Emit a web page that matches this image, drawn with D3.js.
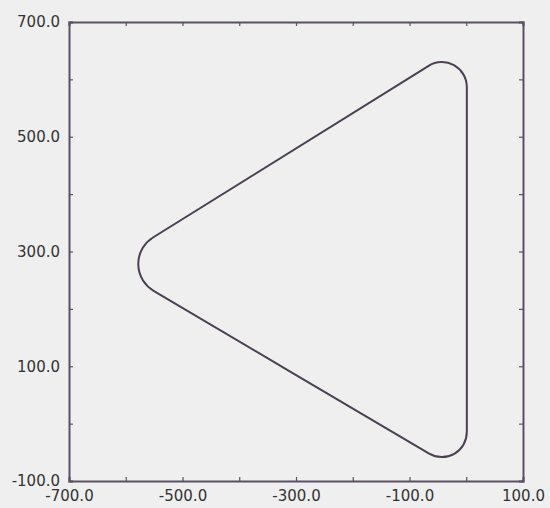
<!DOCTYPE html>
<meta charset="utf-8">
<script src="https://d3js.org/d3.v7.min.js"></script>
<style>
  body { margin: 0; background: #efefef; }
  text { font-family: "DejaVu Sans", sans-serif; }
</style>
<div id="my_dataviz"></div>
<script>

  // corners of the triangle (where the straight sides would meet)
  const cornerX = [-629, 1, 1];
  const cornerY = [277, 665, -91];
  const cornerRadius = [55, 44, 44]; // rounding at each corner, in x units

  // tick values
  const xTicks = [-700, -600, -500, -400, -300, -200, -100, 0, 100];
  const yTicks = [-100, 0, 100, 200, 300, 400, 500, 600, 700];
  const xLabels = [-700, -500, -300, -100, 100];
  const yLabels = [-100, 100, 300, 500, 700];

  const margin = { top: 22, right: 27, bottom: 27, left: 69 },
    width = 550 - margin.left - margin.right,
    height = 508 - margin.top - margin.bottom;

  const svg = d3.select("#my_dataviz")
    .append("svg")
    .attr("width", 550)
    .attr("height", 508)
    .append("g")
    .attr("transform", `translate(${margin.left}, ${margin.top})`);

  const x = d3.scaleLinear().domain([-700, 100]).range([0, width]);
  const y = d3.scaleLinear().domain([-100, 700]).range([height, 0]);

  const axisColor = "#5a5064";

  // bottom and left axes with labels, top and right with ticks only
  const gBottom = svg.append("g")
    .attr("transform", `translate(0, ${height})`)
    .call(d3.axisBottom(x).tickValues(xTicks).tickSize(-4).tickPadding(9)
      .tickFormat(d => xLabels.includes(d) ? d.toFixed(1) : ""));
  const gLeft = svg.append("g")
    .call(d3.axisLeft(y).tickValues(yTicks).tickSize(-4).tickPadding(9)
      .tickFormat(d => yLabels.includes(d) ? d.toFixed(1) : ""));
  const gTop = svg.append("g")
    .call(d3.axisTop(x).tickValues(xTicks).tickSize(-4).tickFormat(""));
  const gRight = svg.append("g")
    .attr("transform", `translate(${width}, 0)`)
    .call(d3.axisRight(y).tickValues(yTicks).tickSize(-4).tickFormat(""));

  [gBottom, gLeft, gTop, gRight].forEach(g => {
    g.select(".domain").attr("stroke", axisColor).attr("stroke-width", 2);
    g.selectAll(".tick line").attr("stroke", axisColor).attr("stroke-width", 1.2);
    g.selectAll("text")
      .attr("fill", "#333")
      .style("font-size", "15px");
  });

  // rounded triangle: straight sides joined by arcs at each corner
  const px = cornerX.map(x), py = cornerY.map(y);
  const n = px.length;
  const path = d3.path();
  path.moveTo((px[n - 1] + px[0]) / 2, (py[n - 1] + py[0]) / 2);
  for (let i = 0; i < n; i++) {
    const j = (i + 1) % n;
    path.arcTo(px[i], py[i], px[j], py[j], x(cornerRadius[i]) - x(0));
  }
  path.closePath();

  svg.append("path")
    .attr("d", path.toString())
    .attr("fill", "none")
    .attr("stroke", "#4b4052")
    .attr("stroke-width", 2);

</script>
